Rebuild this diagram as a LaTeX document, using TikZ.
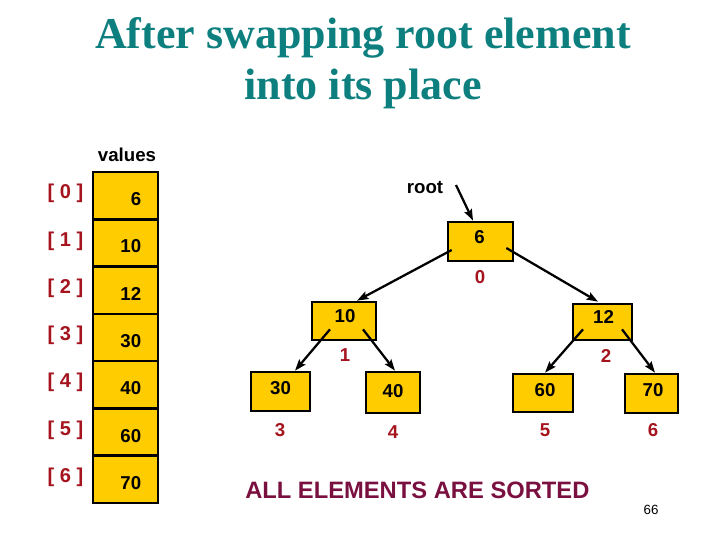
\documentclass[tikz,border=0pt]{standalone}
\usepackage{fontspec}
\setmainfont{Liberation Serif}
\newfontfamily\arialf{Liberation Sans}
\usetikzlibrary{arrows.meta}
\definecolor{titlec}{HTML}{0E7F7F}
\definecolor{idxc}{HTML}{A5141E}
\definecolor{gold}{HTML}{FFCC00}
\definecolor{sortc}{HTML}{7A1040}
\begin{document}
\begin{tikzpicture}[x=0.75pt,y=-0.75pt,
  cell/.style={draw=black,line width=2pt,fill=gold,minimum width=48.75pt,minimum height=35.5pt,inner sep=0},
  tbox/.style={draw=black,line width=2pt,fill=gold,inner sep=0},
  val/.style={font=\arialf\bfseries\fontsize{14}{16}\selectfont,inner sep=0},
  idx/.style={font=\arialf\bfseries\fontsize{14}{16}\selectfont,text=idxc,inner sep=0},
  ttl/.style={font=\bfseries\fontsize{33}{40}\selectfont,text=titlec,inner sep=0,anchor=base},
  arr/.style={line width=1.7pt,-{Stealth[length=8.5pt,width=6pt,inset=1.5pt]}}]
\useasboundingbox (0,0) rectangle (720,540);
% title
\node[ttl] (t1) at (363,48) {After swapping root element};
\node[ttl] (t2) at (363,99) {into its place};
% array
\node[font=\arialf\bfseries\fontsize{14}{16}\selectfont,inner sep=0] (values) at (127,155) {values};
\foreach \i/\v in {0/6,1/10,2/12,3/30,4/40,5/60,6/70}{
  \node[cell] (c\i) at (125.5,{195.6+47.3*\i}) {};
  \node[val,anchor=east] (cv\i) at ([shift={(16,3.5)}]c\i.center) {\v};
  \node[idx,font=\arialf\bfseries\fontsize{15}{17}\selectfont] (ci\i) at ([shift={(-60,-2)}]c\i.center) {[ \i\ ]};
}
% tree
\node[tbox,minimum width=48.75pt,minimum height=29.25pt] (n0) at (480.5,241.5) {};
\node[tbox,minimum width=48pt,minimum height=28.5pt] (n1) at (344,321) {};
\node[tbox,minimum width=44.25pt,minimum height=27pt] (n2) at (602.5,322) {};
\node[tbox,minimum width=44.25pt,minimum height=29.25pt] (n3) at (280.5,391.5) {};
\node[tbox,minimum width=40.5pt,minimum height=30.75pt] (n4) at (393,392.5) {};
\node[tbox,minimum width=45pt,minimum height=28.5pt] (n5) at (543,393) {};
\node[tbox,minimum width=39.75pt,minimum height=29.25pt] (n6) at (651.5,393.5) {};
\node[val] (v0) at ([shift={(-1,-4)}]n0.center) {6};
\node[val] (v1) at ([shift={(1,-5)}]n1.center) {10};
\node[val] (v2) at ([shift={(1,-5)}]n2.center) {12};
\node[val] (v3) at ([shift={(0,-3)}]n3.center) {30};
\node[val] (v4) at ([shift={(0,-1.5)}]n4.center) {40};
\node[val] (v5) at ([shift={(2,-3)}]n5.center) {60};
\node[val] (v6) at ([shift={(1.5,-3.5)}]n6.center) {70};
\node[idx] (i0) at (480,277) {0};
\node[idx] (i1) at (345,355) {1};
\node[idx] (i2) at (606,356) {2};
\node[idx] (i3) at (280,430) {3};
\node[idx] (i4) at (393,432) {4};
\node[idx] (i5) at (545,430) {5};
\node[idx] (i6) at (653,430) {6};
% root pointer
\node[val] (root) at (425,187) {root};
\coordinate (rs) at (456,185);
\draw[arr] (rs) -- ([shift={(-7.5,0)}]n0.north);
% edges
\draw[arr] ([shift={(5,8.5)}]n0.west) -- ([shift={(13,0)}]n1.north);
\draw[arr] ([shift={(-8,6.5)}]n0.east) -- ([shift={(-4.5,-1)}]n2.north);
\draw[arr] ([shift={(-14,-12)}]n1.south) -- ([shift={(14.5,0)}]n3.north);
\draw[arr] ([shift={(19,-12)}]n1.south) -- ([shift={(2,0)}]n4.north);
\draw[arr] ([shift={(-19.5,-12)}]n2.south) -- ([shift={(2,0)}]n5.north);
\draw[arr] ([shift={(19.5,-12)}]n2.south) -- ([shift={(3.5,0)}]n6.north);
% footer
\node[font=\arialf\bfseries\fontsize{17.8}{20}\selectfont,text=sortc,inner sep=0,anchor=west] (sorted) at (245,490) {ALL ELEMENTS ARE SORTED};
\node[font=\arialf\fontsize{10}{12}\selectfont,inner sep=0] (pg) at (651,510) {66};
\end{tikzpicture}
\end{document}
